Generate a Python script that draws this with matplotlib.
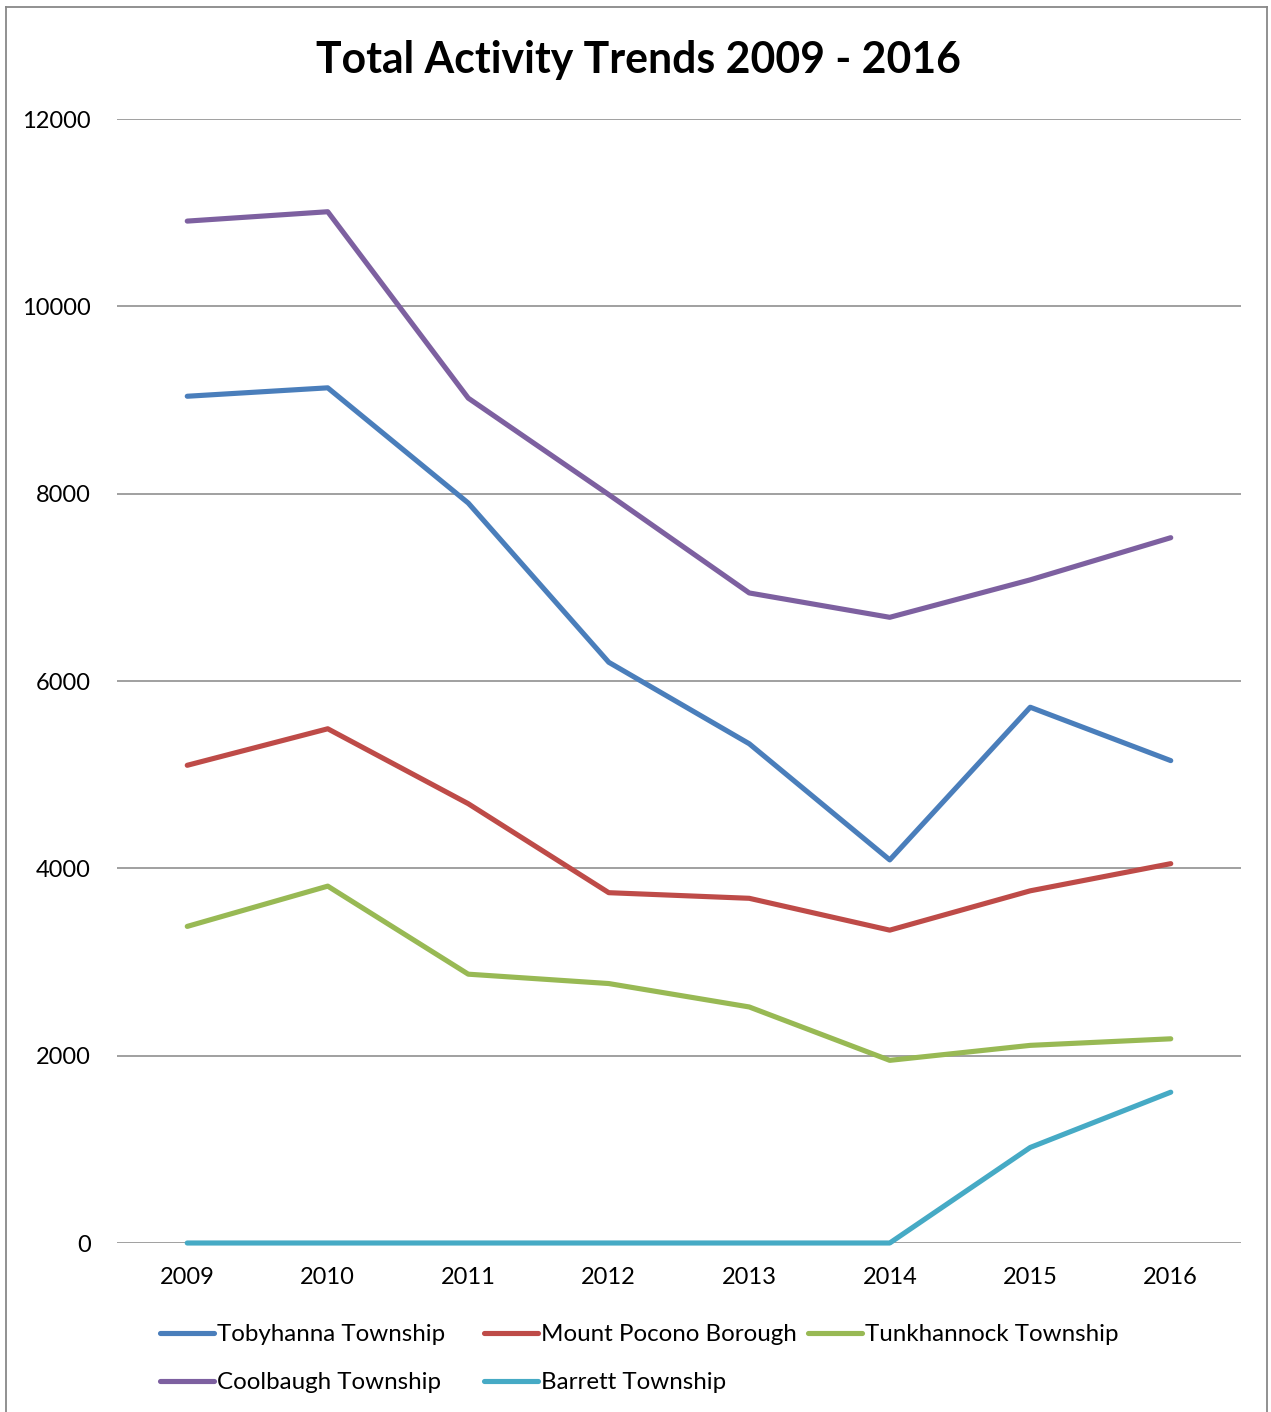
import matplotlib
matplotlib.use("Agg")
import matplotlib.pyplot as plt
from matplotlib.lines import Line2D

plt.rcParams['font.family'] = ['Lato', 'DejaVu Sans']

years = ['2009', '2010', '2011', '2012', '2013', '2014', '2015', '2016']
tobyhanna = [9040, 9130, 7900, 6200, 5330, 4090, 5720, 5150]
mount_pocono = [5100, 5490, 4690, 3740, 3680, 3340, 3760, 4050]
tunkhannock = [3380, 3810, 2870, 2770, 2520, 1950, 2110, 2180]
coolbaugh = [10910, 11010, 9020, 7990, 6940, 6680, 7080, 7530]
barrett = [0, 0, 0, 0, 0, 0, 1020, 1610]

series = [
    ('Tobyhanna Township', tobyhanna, '#4A7EBB'),
    ('Mount Pocono Borough', mount_pocono, '#BE4B48'),
    ('Tunkhannock Township', tunkhannock, '#98B954'),
    ('Coolbaugh Township', coolbaugh, '#7D60A0'),
    ('Barrett Township', barrett, '#46AAC5'),
]
yticks = [0, 2000, 4000, 6000, 8000, 10000, 12000]

fig = plt.figure(figsize=(12.71, 14.12), dpi=100)
ax = fig.add_axes([117/1271, 1 - 1243/1412, (1241-117)/1271, (1243-119)/1412])

x = list(range(len(years)))
lines = {}
for name, vals, col in series:
    ln, = ax.plot(x, vals, color=col, lw=3.7, solid_capstyle='round', label=name,
                  zorder=3, clip_on=False)
    lines[name] = ln

ax.set_xlim(-0.5, len(years) - 0.5)
ax.set_ylim(0, 12000)
ax.set_yticks(yticks)
ax.set_yticklabels([str(v) for v in yticks])
ax.set_xticks(x)
ax.set_xticklabels(years)
ax.yaxis.grid(True, color='#868686', lw=1.1, zorder=1)
ax.set_axisbelow(True)
for s in ax.spines.values():
    s.set_visible(False)
ax.tick_params(axis='y', length=0, pad=19, labelsize=17)
ax.tick_params(axis='x', length=0, pad=17.5, labelsize=17)

fig.text(0.502, 1 - 60/1412, 'Total Activity Trends 2009 - 2016', ha='center', va='center',
         fontsize=30.8, fontweight='bold')

# legend columns
cols = [
    (['Tobyhanna Township', 'Coolbaugh Township'], 160),
    (['Mount Pocono Borough', 'Barrett Township'], 484),
    (['Tunkhannock Township'], 808),
]
for names, xpix in cols:
    fig.legend([lines[n] for n in names], names, loc='upper left',
               bbox_to_anchor=(xpix/1271, 1 - 1324/1412), frameon=False,
               fontsize=17.4, handlelength=2.25, handletextpad=0.12,
               labelspacing=1.12, borderaxespad=0, borderpad=0)

# chart border
bc = '#888888'
fig.add_artist(Line2D([6/1271, 6/1271], [0, 1 - 7/1412], color=bc, lw=1.3))
fig.add_artist(Line2D([6/1271, 1267/1271], [1 - 7/1412, 1 - 7/1412], color=bc, lw=1.3))
fig.add_artist(Line2D([1267/1271, 1267/1271], [0, 1 - 7/1412], color=bc, lw=1.3))

fig.savefig('out.png', dpi=100)
